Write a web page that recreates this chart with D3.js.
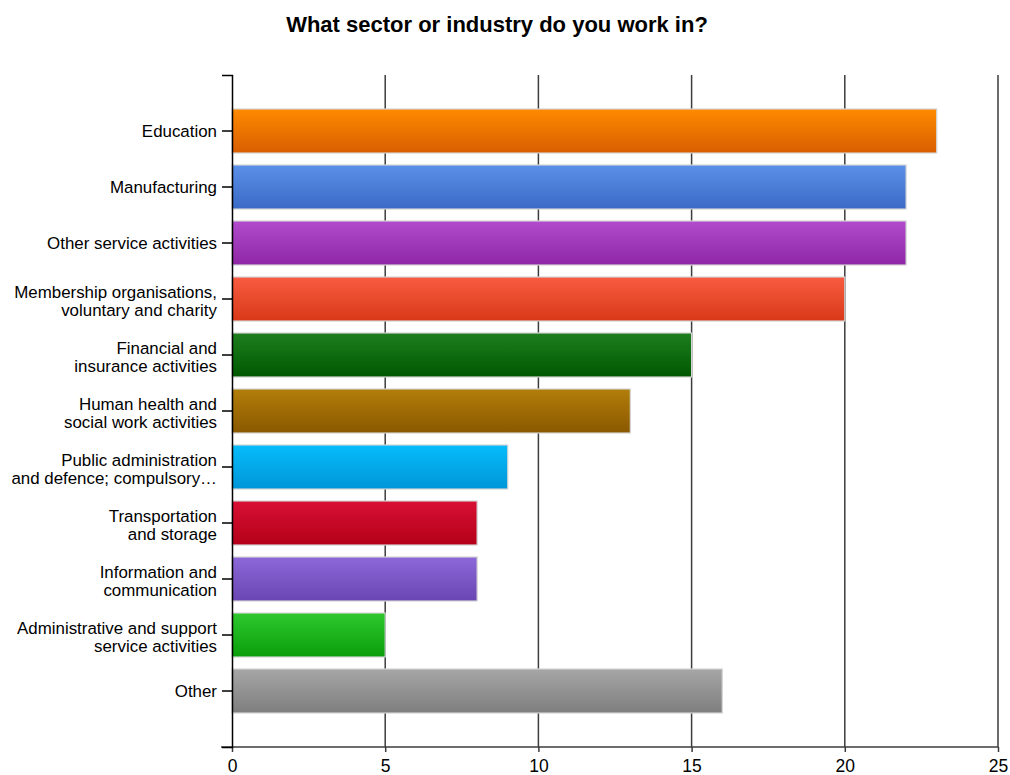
<!DOCTYPE html>
<html><head><meta charset="utf-8">
<script src="https://cdn.jsdelivr.net/npm/d3@7"></script>
<style>body{margin:0;background:#fff;} svg{display:block;}</style>
</head><body>
<svg id="chart" width="1010" height="775"></svg>
<script>
const categories = [
  ["Education"],
  ["Manufacturing"],
  ["Other service activities"],
  ["Membership organisations,", "voluntary and charity"],
  ["Financial and", "insurance activities"],
  ["Human health and", "social work activities"],
  ["Public administration", "and defence; compulsory\u2026"],
  ["Transportation", "and storage"],
  ["Information and", "communication"],
  ["Administrative and support", "service activities"],
  ["Other"]
];
const values = [23, 22, 22, 20, 15, 13, 9, 8, 8, 5, 16];
const topColors =    ["#ff8a00", "#5b90e8", "#b24ccc", "#f85c40", "#1e7e1e", "#b27e0a", "#06bcfa", "#d81034", "#8c68d8", "#2ec82e", "#a6a6a6"];
const bottomColors = ["#d85e00", "#3a6ac6", "#8e26a6", "#d83818", "#005800", "#8a5800", "#0096d8", "#b40018", "#6a46b4", "#0a9e0a", "#7e7e7e"];
const xTicks = [0, 5, 10, 15, 20, 25];
const title = "What sector or industry do you work in?";

(function () {
const svg = d3.select("#chart");
const L = 232, R = 998, T = 75, B = 747;
const font = "'Liberation Sans', Arial, sans-serif";

const x = d3.scaleLinear().domain([0, 25]).range([L, R]);
const y = d3.scaleBand().domain(d3.range(categories.length)).range([T, B])
  .paddingInner(0.214).paddingOuter(0.607);

const defs = svg.append("defs");
categories.forEach((c, i) => {
  const g = defs.append("linearGradient").attr("id", "g" + i)
    .attr("x1", 0).attr("y1", 0).attr("x2", 0).attr("y2", 1);
  g.append("stop").attr("offset", "0%").attr("stop-color", topColors[i]);
  g.append("stop").attr("offset", "100%").attr("stop-color", bottomColors[i]);
});

svg.append("text").attr("x", 497).attr("y", 32).attr("text-anchor", "middle")
  .attr("font-family", font).attr("font-weight", "bold").attr("font-size", 22)
  .attr("fill", "#000").text(title);

svg.append("g").selectAll("line").data(xTicks.filter(d => d > 0)).join("line")
  .attr("x1", d => x(d)).attr("x2", d => x(d))
  .attr("y1", T).attr("y2", B)
  .attr("stroke", "#3c3c3c").attr("stroke-width", 1.5);

const xAxis = d3.axisBottom(x).tickValues(xTicks).tickSize(5).tickSizeOuter(0);
const gx = svg.append("g").attr("transform", `translate(0,${B})`).call(xAxis);
gx.select(".domain").remove();
gx.append("line").attr("x1", L - 11).attr("x2", R).attr("y1", 0).attr("y2", 0)
  .attr("stroke", "#3c3c3c").attr("stroke-width", 1.5);
gx.selectAll(".tick line").attr("stroke", "#3c3c3c").attr("stroke-width", 1.5);
gx.selectAll(".tick text").attr("font-family", font).attr("font-size", 17.5)
  .attr("fill", "#000").attr("dy", "0.75em").attr("y", 12);

svg.append("g").selectAll("rect").data(values).join("rect")
  .attr("x", x(0)).attr("y", (d, i) => y(i))
  .attr("width", d => x(d) - x(0)).attr("height", y.bandwidth())
  .attr("fill", (d, i) => `url(#g${i})`)
  .attr("stroke", "#d4d4d4").attr("stroke-width", 1.2);

const yAxis = d3.axisLeft(y).tickSize(10).tickSizeOuter(10).tickFormat(() => "");
const gy = svg.append("g").attr("transform", `translate(${L},0)`).call(yAxis);
gy.select(".domain").attr("stroke", "#000").attr("stroke-width", 1.5);
gy.selectAll(".tick line").attr("stroke", "#000").attr("stroke-width", 1.5);
gy.selectAll(".tick").each(function (d, i) {
  const lines = categories[i];
  const t = d3.select(this).append("text").attr("x", -15).attr("text-anchor", "end")
    .attr("font-family", font).attr("font-size", 16.9).attr("fill", "#000");
  if (lines.length === 1) {
    t.append("tspan").attr("x", -15).attr("y", 0).attr("dy", "0.35em").text(lines[0]);
  } else {
    t.append("tspan").attr("x", -15).attr("y", -1.5).text(lines[0]);
    t.append("tspan").attr("x", -15).attr("y", 16.5).text(lines[1]);
  }
});
})();
</script>
</body></html>
